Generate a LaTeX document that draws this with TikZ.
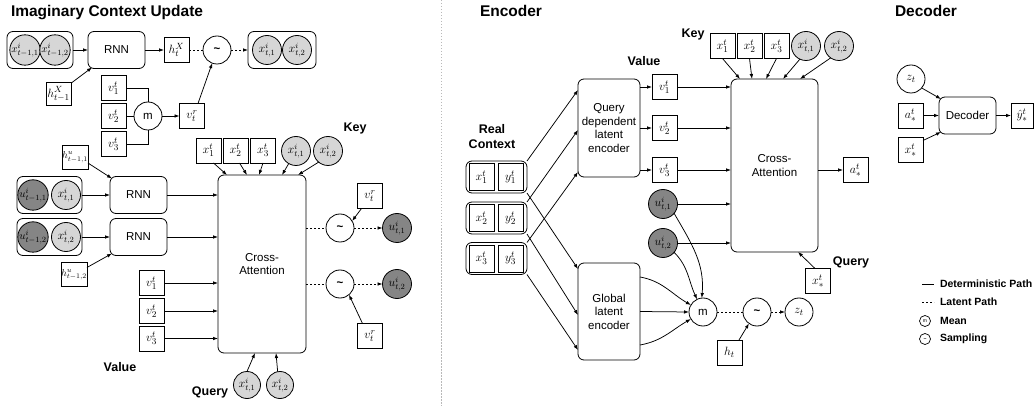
\documentclass[tikz,border=0pt]{standalone}
\usepackage[no-math]{fontspec}
\setmainfont{Liberation Sans}
\setsansfont{Liberation Sans}
\usetikzlibrary{arrows.meta,calc}
\newcommand{\fsz}[1]{\fontsize{#1}{#1}\selectfont}
\newcommand{\tld}{{\bfseries\textasciitilde}}
\definecolor{lgray}{HTML}{D6D6D6}
\definecolor{dgray}{HTML}{858585}
\tikzset{
  every node/.style={inner sep=0pt, outer sep=0pt},
  sq/.style={draw, line width=0.8pt, minimum width=25pt, minimum height=25pt, font=\fsz{13}},
  rb/.style={draw, line width=0.8pt, rounded corners=6pt, align=center, font=\fontsize{11.5}{13.5}\selectfont},
  grp/.style={draw, line width=0.8pt, rounded corners=6pt},
  lc/.style={circle, draw, line width=0.8pt, fill=lgray, minimum size=29pt, font=\fsz{12}},
  dc/.style={lc, fill=dgray},
  op/.style={circle, draw, line width=0.8pt, minimum size=28pt, font=\fsz{11.5}},
  arr/.style={-{Latex[length=5pt,width=3.6pt]}, line width=0.75pt},
  con/.style={line width=0.75pt},
  lat/.style={line width=0.8pt, dash pattern=on 2pt off 2pt},
  latarr/.style={lat, -{Latex[length=5pt,width=3.6pt]}},
  lbl/.style={font=\bfseries\fontsize{12.5}{15}\selectfont, align=center},
  ttl/.style={font=\bfseries\fsz{15.5}, anchor=base west},
  leg/.style={font=\bfseries\fsz{10.5}, anchor=west},
  sm/.style={font=\fsz{11}},
}
\begin{document}
\begin{tikzpicture}[x=1pt,y=-1pt]
\useasboundingbox (0,0) rectangle (1034,406);

% ---------------- Imaginary context update ----------------
\node[ttl] (t1) at (11,17) {Imaginary Context Update};
\node[grp, minimum width=66pt, minimum height=37pt] (cp) at (40,50) {};
\node[lc, sm] (cp1) at (25,50) {$x^i_{t-1,1}$};
\node[lc, sm] (cp2) at (55,50) {$x^i_{t-1,2}$};
\node[rb, minimum width=57pt, minimum height=37pt] (rnn0) at (116.5,50) {RNN};
\node[sq] (hx) at (176.5,50) {$h^X_t$};
\node[op] (sa) at (217,50) {\tld};
\node[grp, minimum width=68pt, minimum height=37pt] (cn) at (282,50) {};
\node[lc] (cn1) at (267,50) {$x^i_{t,1}$};
\node[lc] (cn2) at (297,50) {$x^i_{t,2}$};
\node[sq, minimum height=23pt] (hxp) at (58.5,94) {$h^X_{t-1}$};
\node[sq] (va1) at (113.5,88) {$v^t_1$};
\node[sq] (va2) at (113.5,116) {$v^t_2$};
\node[sq] (va3) at (113.5,144) {$v^t_3$};
\node[op] (ma) at (148,116) {m};
\node[sq] (vra) at (192,116) {$v^r_t$};

\draw[arr] (cp.east) -- (rnn0.west);
\draw[arr] (rnn0.east) -- (hx.west);
\draw[lat] (hx.east) -- (sa.west);
\draw[latarr] (sa.east) -- (cn.west);
\draw[arr] ([xshift=1pt]hxp.north east) -- ([xshift=4pt,yshift=1pt]rnn0.south west);
\draw[con] (va1.east) -| (ma.north);
\draw[con] (va2.east) -- (ma.west);
\draw[con] (va3.east) -| (ma.south);
\draw[arr] (ma.east) -- (vra.west);
\draw[arr] ([xshift=6pt]vra.north) -- (sa.-110);

% recurrent updates and cross-attention
\node[sq, minimum height=24pt, font=\fsz{10}] (hu1) at (75,157) {$h^u_{t-1,1}$};
\node[grp, minimum width=65pt, minimum height=37pt] (ga) at (49.5,195) {};
\node[dc, sm] (ua1) at (33,195) {$u^i_{t-1,1}$};
\node[lc] (xa1) at (66,195) {$x^i_{t,1}$};
\node[rb, minimum width=57pt, minimum height=37pt] (rnn1) at (138.5,195) {RNN};
\node[grp, minimum width=65pt, minimum height=37pt] (gb) at (49.5,237) {};
\node[dc, sm] (ub1) at (33,237) {$u^i_{t-1,2}$};
\node[lc] (xb1) at (66,237) {$x^i_{t,2}$};
\node[rb, minimum width=57pt, minimum height=37pt] (rnn2) at (138.5,237) {RNN};
\node[sq, minimum height=24pt, font=\fsz{10}] (hu2) at (74,274.5) {$h^u_{t-1,2}$};
\node[sq] (vb1) at (151.5,283) {$v^t_1$};
\node[sq] (vb2) at (151.5,311) {$v^t_2$};
\node[sq] (vb3) at (151.5,338.5) {$v^t_3$};
\node[rb, minimum width=88pt, minimum height=178pt] (ca0) at (262,264) {Cross-\\Attention};
\node[sq] (ka1) at (208.5,150.5) {$x^t_1$};
\node[sq] (ka2) at (235.5,150.5) {$x^t_2$};
\node[sq] (ka3) at (263,150.5) {$x^t_3$};
\node[lc] (kc1) at (296,151) {$x^i_{t,1}$};
\node[lc] (kc2) at (328,151) {$x^i_{t,2}$};
\node[lbl] (keya) at (355,128) {Key};
\node[op] (sb1) at (340,228) {\tld};
\node[op] (sb2) at (340,284) {\tld};
\node[dc] (uo1) at (397,228) {$u^i_{t,1}$};
\node[dc] (uo2) at (397,284) {$u^i_{t,2}$};
\node[sq] (vrb1) at (370,196) {$v^r_t$};
\node[sq] (vrb2) at (370,336) {$v^r_t$};
\node[lbl] (vala) at (120,367) {Value};
\node[lbl] (qrya) at (210,392) {Query};
\node[lc, minimum size=27pt] (qa1) at (247,385) {$x^i_{t,1}$};
\node[lc, minimum size=27pt] (qa2) at (280,385) {$x^i_{t,2}$};

\draw[arr] ([yshift=6pt]hu1.south east) -- ([shift={(2pt,-2pt)}]rnn1.north west);
\draw[arr] (ga.east) -- (rnn1.west);
\draw[arr] (rnn1.east) -- (ca0.west |- rnn1.east);
\draw[arr] (gb.east) -- (rnn2.west);
\draw[arr] (rnn2.east) -- (ca0.west |- rnn2.east);
\draw[arr] ([yshift=-5pt]hu2.north east) -- ([shift={(2pt,2pt)}]rnn2.south west);
\draw[arr] (vb1.east) -- (ca0.west |- vb1.east);
\draw[arr] (vb2.east) -- (ca0.west |- vb2.east);
\draw[arr] (vb3.east) -- (ca0.west |- vb3.east);
\draw[arr] ([xshift=5pt]ka1.south) -- ([xshift=9pt]ca0.north west);
\draw[arr] ([xshift=4pt]ka2.south) -- ([xshift=29pt]ca0.north west);
\draw[arr] (ka3.south) -- ([xshift=41pt]ca0.north west);
\draw[arr] (kc1.-120) -- ([xshift=64pt]ca0.north west);
\draw[arr] (kc2.-130) -- ([xshift=80pt]ca0.north west);
\draw[lat] (ca0.east |- sb1.west) -- (sb1.west);
\draw[latarr] (sb1.east) -- (uo1.west);
\draw[lat] (ca0.east |- sb2.west) -- (sb2.west);
\draw[latarr] (sb2.east) -- (uo2.west);
\draw[arr] ([xshift=4pt]vrb1.south west) -- (sb1.30);
\draw[arr] ([xshift=5pt]vrb2.north west) -- (sb2.-50);
\draw[arr] (qa1.north) -- ([xshift=37pt]ca0.south west);
\draw[arr] (qa2.100) -- ([xshift=58pt]ca0.south west);

% panel separator
\draw[gray!55, line width=0.8pt, dash pattern=on 1.5pt off 1.5pt] (441,0) -- (441,406);

% ---------------- Encoder ----------------
\node[ttl] (t2) at (480,17) {Encoder};
\node[lbl] (keyb) at (693,35) {Key};
\node[sq] (eka1) at (722.5,46) {$x^t_1$};
\node[sq] (eka2) at (749.5,46) {$x^t_2$};
\node[sq] (eka3) at (776.5,46) {$x^t_3$};
\node[lc] (ekc1) at (806,46) {$x^i_{t,1}$};
\node[lc] (ekc2) at (839,46) {$x^i_{t,2}$};
\node[lbl] (valb) at (644,61) {Value};
\node[rb, minimum width=62pt, minimum height=98pt] (qd) at (609,128) {Query\\dependent\\latent\\encoder};
\node[sq] (ev1) at (664.5,87) {$v^t_1$};
\node[sq] (ev2) at (664.5,128) {$v^t_2$};
\node[sq] (ev3) at (664.5,170) {$v^t_3$};
\node[rb, minimum width=87pt, minimum height=173pt] (ca1) at (774.5,165.5) {Cross-\\Attention};
\node[sq] (as) at (855.5,170) {$a^t_*$};
\node[lbl] (qryb) at (851,262) {Query};
\node[sq] (xs) at (818,281) {$x^t_*$};
\node[dc] (eu1) at (663,204) {$u^i_{t,1}$};
\node[dc] (eu2) at (663,243) {$u^i_{t,2}$};
\node[lbl] (rc) at (492,137) {Real\\Context};
\foreach \n/\y in {1/177,2/218,3/258.5}{
  \node[grp, minimum width=61pt, minimum height=32pt] (g\n) at (496.5,\y) {};
  \node[sq, minimum height=27pt] (gx\n) at (481.5,\y) {$x^t_\n$};
  \node[sq, minimum height=27pt] (gy\n) at (510.5,\y) {$y^t_\n$};
}
\node[rb, minimum width=62pt, minimum height=97pt] (gl) at (609,311.5) {Global\\latent\\encoder};
\node[op] (mb) at (703,312) {m};
\node[op] (sc) at (757,312) {\tld};
\node[op, font=\fsz{13}] (zt) at (799,312) {$z_t$};
\node[sq] (ht) at (729.5,352.5) {$h_t$};

\draw[arr] (g1.north east) -- (qd.west |- 0,90);
\draw[arr] (g2.north east) -- (qd.west |- 0,130);
\draw[arr] (g3.north east) -- (qd.west |- 0,172);
\draw[arr] (g1.south east) -- (gl.west |- 0,269);
\draw[arr] (g2.south east) -- (gl.west |- 0,315);
\draw[arr] (g3.south east) -- (gl.west |- 0,350);
\draw[arr] (qd.east |- ev1.west) -- (ev1.west);
\draw[arr] (qd.east |- ev2.west) -- (ev2.west);
\draw[arr] (qd.east |- ev3.west) -- (ev3.west);
\draw[arr] (ev1.east) -- (ca1.west |- ev1.east);
\draw[arr] (ev2.east) -- (ca1.west |- ev2.east);
\draw[arr] (ev3.east) -- (ca1.west |- ev3.east);
\draw[arr] (eu1.east) -- (ca1.west |- eu1.east);
\draw[arr] (eu2.east) -- (ca1.west |- eu2.east);
\draw[arr] (ca1.east |- as.west) -- (as.west);
\draw[arr] ([xshift=-3pt]xs.north) -- ([xshift=67pt]ca1.south west);
\draw[arr] (eka1.south) -- ([xshift=9pt]ca1.north west);
\draw[arr] (eka2.south) -- ([xshift=21pt]ca1.north west);
\draw[arr] (eka3.south) -- ([xshift=35pt]ca1.north west);
\draw[arr] (ekc1.-115) -- ([xshift=52pt]ca1.north west);
\draw[arr] (ekc2.-125) -- ([xshift=69pt]ca1.north west);
\draw[arr] ([yshift=-14pt]gl.north east) to[out=-10,in=150] (mb.150);
\draw[arr] (gl.east) -- (mb.west);
\draw[arr] ([yshift=15pt]gl.south east) to[out=10,in=-150] (mb.-150);
\draw[arr] (eu1.-40) to[out=-60,in=85] (mb.95);
\draw[arr] (eu2.-40) to[out=-45,in=115] (mb.115);
\draw[lat] (mb.east) -- (sc.west);
\draw[latarr] (sc.east) -- (zt.west);
\draw[arr] ([xshift=-3pt]ht.north east) -- (sc.-125);

% ---------------- Decoder ----------------
\node[ttl] (t3) at (895,17) {Decoder};
\node[op, font=\fsz{13}] (zd) at (911,79) {$z_t$};
\node[sq] (ad) at (910.5,115.5) {$a^t_*$};
\node[sq] (xd) at (910.5,150) {$x^t_*$};
\node[rb, minimum width=57pt, minimum height=37pt] (dec) at (967.5,115.5) {Decoder};
\node[sq, minimum width=22pt] (yh) at (1022,115.5) {$\hat{y}^t_*$};
\draw[arr] (zd.-40) -- ([shift={(2pt,-2pt)}]dec.north west);
\draw[arr] (ad.east) -- (dec.west);
\draw[arr] ([yshift=-3pt]xd.north east) -- ([shift={(2pt,2pt)}]dec.south west);
\draw[arr] (dec.east) -- (yh.west);

% ---------------- Legend ----------------
\coordinate (la) at (922,284);
\coordinate (lb) at (934,284);
\draw[con] (la) -- (lb);
\node[leg] (lt1) at (940,284) {Deterministic Path};
\coordinate (lc1) at (922,302);
\coordinate (ld1) at (934,302);
\draw[lat] (lc1) -- (ld1);
\node[leg] (lt2) at (940,302) {Latent Path};
\node[circle, draw, line width=0.7pt, minimum size=11pt, font=\fsz{5}] (lm) at (925,321) {m};
\node[leg] (lt3) at (940,321) {Mean};
\node[circle, draw, line width=0.7pt, minimum size=11pt, font=\fsz{5}] (ls) at (925,339) {\tld};
\node[leg] (lt4) at (940,339) {Sampling};
\end{tikzpicture}
\end{document}
